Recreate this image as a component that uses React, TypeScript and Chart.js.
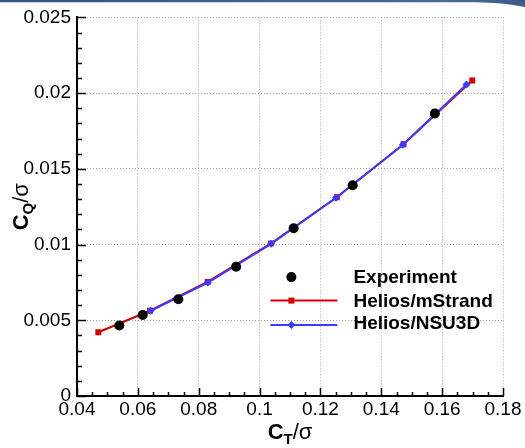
import React, { useEffect, useRef } from "react";
import { Chart, registerables } from "chart.js";

Chart.register(...registerables);

// ---- data ----
const expCT = [0.0539, 0.0616, 0.0733, 0.0923, 0.1112, 0.1306, 0.1576];
const expCQ = [0.00465, 0.00535, 0.00639, 0.00853, 0.01108, 0.01392, 0.01865];

const mStrandCT = [0.047, 0.064, 0.0829, 0.1038, 0.1254, 0.1473, 0.1699];
const mStrandCQ = [0.00421, 0.00563, 0.00753, 0.01008, 0.01312, 0.01662, 0.02083];

const nsuCT = [0.0642, 0.083, 0.1038, 0.1251, 0.1471, 0.168];
const nsuCQ = [0.00563, 0.00749, 0.01005, 0.01309, 0.01659, 0.02057];

const xTicks = [0.04, 0.06, 0.08, 0.1, 0.12, 0.14, 0.16, 0.18];
const yTicks = [0, 0.005, 0.01, 0.015, 0.02, 0.025];
const xMinorStep = 0.005;
const yMinorStep = 0.001;

const legendLabels = ["Experiment", "Helios/mStrand", "Helios/NSU3D"];

const RED = "#d40000";
const BLUE = "#3c3cff";
const FONT = "'Liberation Sans', Arial, Helvetica, sans-serif";

const pts = (xs: number[], ys: number[]) => xs.map((x, i) => ({ x, y: ys[i] }));
const fmt = (v: number) => String(Number(Number(v).toFixed(4)));

const decorPlugin = {
  id: "decor",
  afterDraw(chart: any) {
    const { ctx, chartArea: a, scales } = chart;
    const xs = scales.x;
    const ys = scales.y;
    ctx.save();
    // inward ticks
    ctx.strokeStyle = "#000";
    ctx.lineWidth = 1.5;
    ctx.beginPath();
    const xMin = xTicks[0], xMax = xTicks[xTicks.length - 1];
    for (let v = xMin; v <= xMax + 1e-9; v += xMinorStep) {
      const px = Math.round(xs.getPixelForValue(v)) + 0.5;
      const major = xTicks.some((t) => Math.abs(t - v) < 1e-9);
      const len = major ? 8 : 4;
      ctx.moveTo(px, a.bottom);
      ctx.lineTo(px, a.bottom - len);
    }
    const yMin = yTicks[0], yMax = yTicks[yTicks.length - 1];
    for (let v = yMin; v <= yMax + 1e-9; v += yMinorStep) {
      const py = Math.round(ys.getPixelForValue(v)) + 0.5;
      const major = yTicks.some((t) => Math.abs(t - v) < 1e-9);
      const len = major ? 9 : 5;
      ctx.moveTo(a.left, py);
      ctx.lineTo(a.left + len, py);
    }
    ctx.stroke();

    // axis titles
    const drawTitle = (sub: string, cx: number, baseY: number) => {
      const big = "bold 22px " + FONT;
      const small = "bold 15px " + FONT;
      const reg = "22px " + FONT;
      ctx.font = big;
      const w1 = ctx.measureText("C").width;
      ctx.font = small;
      const w2 = ctx.measureText(sub).width;
      ctx.font = reg;
      const w3 = ctx.measureText("/σ").width;
      let x0 = cx - (w1 + w2 + w3) / 2;
      ctx.fillStyle = "#000";
      ctx.textAlign = "left";
      ctx.textBaseline = "alphabetic";
      ctx.font = big;
      ctx.fillText("C", x0, baseY);
      ctx.font = small;
      ctx.fillText(sub, x0 + w1, baseY + 5);
      ctx.font = reg;
      ctx.fillText("/σ", x0 + w1 + w2, baseY);
    };
    drawTitle("T", (a.left + a.right) / 2, 439);
    ctx.save();
    ctx.translate(28, (a.top + a.bottom) / 2);
    ctx.rotate(-Math.PI / 2);
    drawTitle("Q", 0, 0);
    ctx.restore();

    // legend
    const lx0 = a.left + (a.right - a.left) * 0.454;
    const lx1 = lx0 + 67;
    const mx = lx0 + 21;
    const tx = lx1 + 16;
    const rows = [a.top + (a.bottom - a.top) * 0.686, 0, 0];
    rows[1] = rows[0] + 23.5;
    rows[2] = rows[1] + 24.5;
    ctx.font = "bold 19px " + FONT;
    ctx.textBaseline = "middle";
    ctx.textAlign = "left";
    // experiment
    ctx.fillStyle = "#000";
    ctx.beginPath();
    ctx.arc(mx, rows[0], 5, 0, Math.PI * 2);
    ctx.fill();
    ctx.fillText(legendLabels[0], tx, rows[0] + 1);
    // mStrand
    ctx.strokeStyle = RED;
    ctx.lineWidth = 2;
    ctx.beginPath();
    ctx.moveTo(lx0, rows[1]);
    ctx.lineTo(lx1, rows[1]);
    ctx.stroke();
    ctx.fillStyle = RED;
    ctx.fillRect(mx - 3, rows[1] - 3, 6, 6);
    ctx.fillStyle = "#000";
    ctx.fillText(legendLabels[1], tx, rows[1] + 1);
    // NSU3D
    ctx.strokeStyle = BLUE;
    ctx.beginPath();
    ctx.moveTo(lx0, rows[2]);
    ctx.lineTo(lx1, rows[2]);
    ctx.stroke();
    ctx.fillStyle = BLUE;
    ctx.beginPath();
    ctx.moveTo(mx, rows[2] - 4);
    ctx.lineTo(mx + 4, rows[2]);
    ctx.lineTo(mx, rows[2] + 4);
    ctx.lineTo(mx - 4, rows[2]);
    ctx.closePath();
    ctx.fill();
    ctx.fillStyle = "#000";
    ctx.fillText(legendLabels[2], tx, rows[2] - 1);
    ctx.restore();
  },
};

export default function App() {
  const ref = useRef<HTMLCanvasElement | null>(null);
  useEffect(() => {
    if (!ref.current) return;
    const chart = new Chart(ref.current, {
      type: "scatter",
      data: {
        datasets: [
          {
            label: legendLabels[0],
            data: pts(expCT, expCQ),
            showLine: false,
            pointRadius: 5,
            pointBackgroundColor: "#000",
            pointBorderColor: "#000",
            pointBorderWidth: 0,
          },
          {
            label: legendLabels[2],
            data: pts(nsuCT, nsuCQ),
            showLine: true,
            borderColor: BLUE,
            borderWidth: 2,
            pointStyle: "rectRot",
            pointRadius: 4,
            pointBackgroundColor: BLUE,
            pointBorderColor: BLUE,
            pointBorderWidth: 0,
          },
          {
            label: legendLabels[1],
            data: pts(mStrandCT, mStrandCQ),
            showLine: true,
            borderColor: RED,
            borderWidth: 2,
            pointStyle: "rect",
            pointRadius: 4.2,
            pointBackgroundColor: RED,
            pointBorderColor: RED,
            pointBorderWidth: 0,
          },
        ],
      },
      options: {
        responsive: false,
        animation: false,
        layout: { padding: { left: 0, top: 14, right: 22, bottom: 0 } },
        plugins: { legend: { display: false }, tooltip: { enabled: false } },
        scales: {
          x: {
            type: "linear",
            min: xTicks[0],
            max: xTicks[xTicks.length - 1],
            afterBuildTicks: (s: any) => {
              s.ticks = xTicks.map((v) => ({ value: v }));
            },
            afterFit: (s: any) => {
              s.height = 52;
            },
            ticks: {
              callback: (v: any) => fmt(v),
              font: { family: FONT, size: 19 },
              color: "#000",
              padding: 2,
              maxRotation: 0,
              autoSkip: false,
            },
            grid: { color: "#a8a8a8", lineWidth: 1, drawTicks: false },
            border: { display: true, color: "#000", width: 2, dash: [1, 2] },
          },
          y: {
            type: "linear",
            min: yTicks[0],
            max: yTicks[yTicks.length - 1],
            afterBuildTicks: (s: any) => {
              s.ticks = yTicks.map((v) => ({ value: v }));
            },
            afterFit: (s: any) => {
              s.width = 77;
            },
            ticks: {
              callback: (v: any) => fmt(v),
              font: { family: FONT, size: 19 },
              color: "#000",
              padding: 6,
              autoSkip: false,
            },
            grid: { color: "#a8a8a8", lineWidth: 1, drawTicks: false },
            border: { display: true, color: "#000", width: 2, dash: [1, 2] },
          },
        },
      },
      plugins: [decorPlugin],
    } as any);
    return () => chart.destroy();
  }, []);

  return (
    <div
      style={{
        position: "fixed",
        left: 0,
        top: 0,
        width: 525,
        height: 448,
        background: "#fff",
        overflow: "hidden",
      }}
    >
      <canvas ref={ref} width={525} height={448} style={{ display: "block" }} />
      <svg
        width={525}
        height={10}
        style={{ position: "absolute", left: 0, top: 0 }}
      >
        <defs>
          <linearGradient id="hdr" x1="0" x2="1" y1="0" y2="0">
            <stop offset="0" stopColor="#34548a" />
            <stop offset="0.85" stopColor="#4a6a9c" />
            <stop offset="1" stopColor="#3a5a8c" />
          </linearGradient>
        </defs>
        <path d="M0 0 H525 V7 C 510 4, 495 2.2, 470 2.2 H0 Z" fill="url(#hdr)" />
      </svg>
    </div>
  );
}
